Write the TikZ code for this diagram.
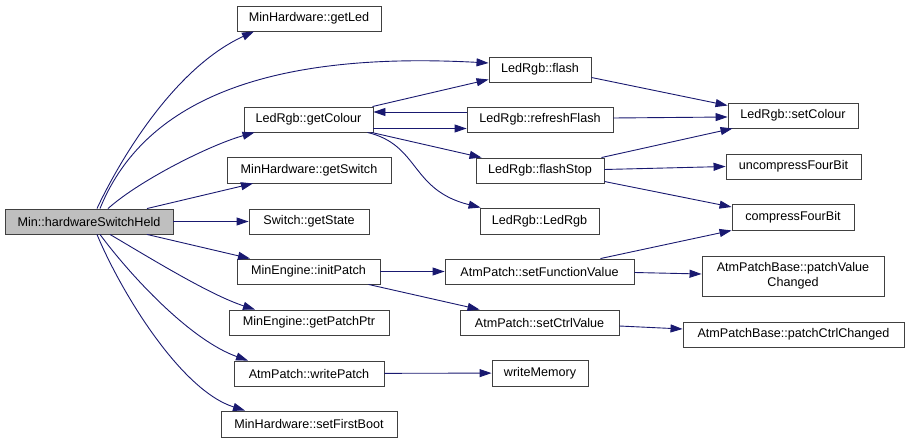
\documentclass[tikz,border=0pt]{standalone}
\usepackage{fontspec}
\setmainfont{Liberation Sans}
\usetikzlibrary{arrows.meta}
\definecolor{edgeblue}{HTML}{191970}
\definecolor{boxline}{HTML}{404040}
\definecolor{mainfill}{HTML}{BFBFBF}
\begin{document}
\begin{tikzpicture}[x=1pt,y=-1pt,
  fn/.style={draw=boxline, line width=0.9pt, fill=white, inner sep=0pt,
    minimum height=25pt, font=\fontsize{12.6}{15}\selectfont, align=center},
  edge/.style={draw=edgeblue, line width=0.9pt, -{Triangle[length=12pt,width=8pt]}}]
\useasboundingbox (0,0) rectangle (909,443);
% nodes
\node[fn, fill=mainfill, minimum width=168pt] (main) at (89,221.5) {Min::hardwareSwitchHeld};
\node[fn, minimum width=144pt] (getLed) at (309,18.5) {MinHardware::getLed};
\node[fn, minimum width=102pt] (flash) at (540,69.5) {LedRgb::flash};
\node[fn, minimum width=129pt] (getColour) at (308.5,119.5) {LedRgb::getColour};
\node[fn, minimum width=146pt] (refreshFlash) at (540,119.5) {LedRgb::refreshFlash};
\node[fn, minimum width=130pt] (setColour) at (793,115.5) {LedRgb::setColour};
\node[fn, minimum width=164pt, minimum height=26pt] (getSwitch) at (309,170) {MinHardware::getSwitch};
\node[fn, minimum width=128pt] (flashStop) at (540,170.5) {LedRgb::flashStop};
\node[fn, minimum width=135pt] (uncompress) at (793.5,166.5) {uncompressFourBit};
\node[fn, minimum width=119pt, minimum height=26pt] (LedRgb) at (539.5,221) {LedRgb::LedRgb};
\node[fn, minimum width=122pt, minimum height=26pt] (compress) at (793,217) {compressFourBit};
\node[fn, minimum width=120pt] (getState) at (309,221.5) {Switch::getState};
\node[fn, minimum width=143pt] (initPatch) at (308.5,271.5) {MinEngine::initPatch};
\node[fn, minimum width=189pt] (setFunctionValue) at (539.5,271.5) {AtmPatch::setFunctionValue};
\node[fn, minimum width=182pt, minimum height=40pt] (patchValueChanged) at (793,276) {AtmPatchBase::patchValue\\Changed};
\node[fn, minimum width=160pt] (getPatchPtr) at (309,322.5) {MinEngine::getPatchPtr};
\node[fn, minimum width=159pt] (setCtrlValue) at (539.5,322.5) {AtmPatch::setCtrlValue};
\node[fn, minimum width=221pt] (patchCtrlChanged) at (793.5,334.5) {AtmPatchBase::patchCtrlChanged};
\node[fn, minimum width=150pt] (writePatch) at (309,373.5) {AtmPatch::writePatch};
\node[fn, minimum width=96pt, minimum height=26pt] (writeMemory) at (540,373) {writeMemory};
\node[fn, minimum width=176pt, minimum height=26pt] (setFirstBoot) at (309,424) {MinHardware::setFirstBoot};
% edges from main
\draw[edge] ([xshift=8pt]main.north) .. controls (115,170) and (170,70) .. ([xshift=-55pt]getLed.south);
\draw[edge] ([xshift=11pt]main.north) .. controls (140,110) and (250,50) .. ([yshift=6.5pt]flash.west);
\draw[edge] ([xshift=19pt]main.north) .. controls (140,180) and (210,145) .. ([xshift=-54pt]getColour.south);
\draw[edge] ([xshift=58pt]main.north) -- ([xshift=-56pt]getSwitch.south);
\draw[edge] (main) -- (getState);
\draw[edge] ([xshift=58pt]main.south) -- ([xshift=-58.5pt]initPatch.north);
\draw[edge] ([xshift=21pt]main.south) .. controls (150,258) and (210,295) .. ([xshift=-54pt]getPatchPtr.north);
\draw[edge] ([xshift=11pt]main.south) .. controls (130,275) and (190,340) .. ([xshift=-61pt]writePatch.north);
\draw[edge] ([xshift=8pt]main.south) .. controls (120,290) and (180,390) .. ([xshift=-64pt]setFirstBoot.north);
% getColour
\draw[edge] ([xshift=-1pt]getColour.north east) -- ([yshift=-10pt]flash.west);
\draw[edge] ([yshift=7.5pt]refreshFlash.west) -- ([yshift=7.5pt]getColour.east);
\draw[edge] ([yshift=-9pt]getColour.east) -- ([yshift=-9pt]refreshFlash.west);
\draw[edge] ([xshift=-2pt]getColour.south east) -- ([xshift=6pt]flashStop.north west);
\draw[edge] ([xshift=-6pt]getColour.south east) .. controls (420,145) and (410,190) .. ([xshift=1pt]LedRgb.north west);
% to setColour etc.
\draw[edge] ([yshift=-8pt]flash.east) -- ([yshift=10pt]setColour.west);
\draw[edge] ([yshift=1.5pt]refreshFlash.east) -- ([yshift=-1.5pt]setColour.west);
\draw[edge] ([xshift=-3pt]flashStop.north east) -- ([xshift=5pt]setColour.south west);
\draw[edge] ([yshift=1pt]flashStop.east) -- (uncompress.west);
\draw[edge] ([yshift=-11pt]flashStop.east) -- ([yshift=10pt]compress.west);
% patch
\draw[edge] (initPatch) -- (setFunctionValue);
\draw[edge] ([xshift=-12pt]initPatch.south east) -- ([xshift=20pt]setCtrlValue.north west);
\draw[edge] ([xshift=-34pt]setFunctionValue.north east) -- (compress.south west);
\draw[edge] ([yshift=-1pt]setFunctionValue.east) -- ([yshift=2pt]patchValueChanged.west);
\draw[edge] ([yshift=-3.5pt]setCtrlValue.east) -- ([yshift=5.5pt]patchCtrlChanged.west);
\draw[edge] (writePatch) -- (writeMemory);
\end{tikzpicture}
\end{document}
